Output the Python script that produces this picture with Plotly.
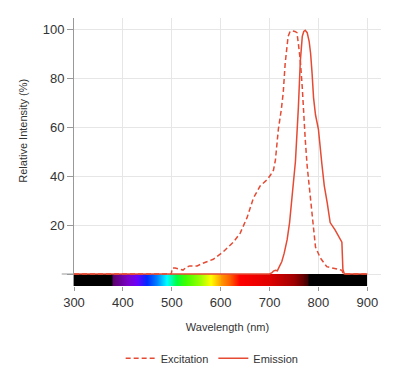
import plotly.graph_objects as go
import numpy as np

# ---- data ----
exc_wl = [300, 499, 501, 507, 515, 523, 530, 537, 552, 565, 585, 605, 626, 640, 654, 667, 681, 695,
          702, 708, 712, 718, 724, 728, 732, 738, 742, 746, 752, 756, 759, 763, 767, 769, 773, 777,
          780, 783, 787, 794, 804, 817, 838, 848, 851, 900]
exc_val = [0, 0, 2.4, 2.4, 2.0, 1.6, 2.8, 3.3, 3.3, 4.5, 6, 9, 13, 16.7, 23, 31, 36, 38.5,
           40.4, 42.4, 46.5, 59, 67, 74, 86, 97, 99, 99.3, 99, 98.5, 94, 87, 76, 67, 55, 44,
           38, 31, 22, 11, 6.5, 3, 2, 1.5, 0, 0]

em_wl = [300, 700, 705, 708, 712, 716, 720, 725, 730, 736, 741, 746, 753, 759, 763, 767, 770, 773,
         777, 781, 784, 787, 790, 794, 800, 807, 812, 818, 824, 834, 845, 848, 850, 853, 900]
em_val = [0, 0, 0.5, 1.2, 1.5, 1.3, 3, 5, 8.5, 14, 21, 31, 46, 68, 87, 97, 99, 99.5,
          98.5, 95, 90, 82, 72, 65, 59, 45, 36, 29, 21, 18, 14.5, 13, 2, 0, 0]

# visible spectrum stops (wavelength nm, colour)
spec_wl = [300, 378, 380, 410, 430, 450, 470, 490, 510, 530, 560, 580, 600, 620, 640, 700, 750, 780, 782, 900]
spec_col = ['#000000', '#000000', '#5a006a', '#7a00c8', '#6a00ff', '#0028ff', '#0080ff', '#00ffff',
            '#00ff40', '#40ff00', '#a0ff00', '#ffff00', '#ffa000', '#ff6000', '#ff0000', '#e00000',
            '#a00000', '#400000', '#000000', '#000000']

x_ticks = [300, 400, 500, 600, 700, 800, 900]
y_ticks = [0, 20, 40, 60, 80, 100]
y_ticktext = ['', '20', '40', '60', '80', '100']

LINE = '#e54b34'
FONT = 'Liberation Sans, Arial, sans-serif'

fig = go.Figure()

# spectrum bar as heatmap below zero
edges = np.arange(300, 902, 2)
centers = (edges[:-1] + edges[1:]) / 2
lo, hi = spec_wl[0], spec_wl[-1]
cscale = [[(w - lo) / (hi - lo), c] for w, c in zip(spec_wl, spec_col)]
fig.add_trace(go.Heatmap(z=[centers], x=edges, y=[-4.9, 0], colorscale=cscale,
                         zmin=lo, zmax=hi, showscale=False, hoverinfo='skip', showlegend=False))

fig.add_trace(go.Scatter(x=exc_wl, y=exc_val, mode='lines', name='Excitation',
                         line=dict(color=LINE, width=1.5, dash='5px,3px')))
fig.add_trace(go.Scatter(x=em_wl, y=em_val, mode='lines', name='Emission',
                         line=dict(color=LINE, width=1.5)))

fig.update_layout(
    width=400, height=371,
    margin=dict(l=66, r=27, t=10, b=93, autoexpand=False),
    paper_bgcolor='white', plot_bgcolor='white',
    font=dict(family=FONT, color='#333333', size=13),
    showlegend=True,
    legend=dict(orientation='h', x=0.45, xanchor='center', y=-0.27, yanchor='middle',
                font=dict(size=11, color='#333333'), itemwidth=30, tracegroupgap=0),
    annotations=[dict(text='Relative Intensity (%)', xref='paper', yref='paper', x=-0.195, y=0.58,
                      textangle=-90, showarrow=False, font=dict(size=11, color='#333333'))],
    shapes=[dict(type='line', xref='paper', yref='y', x0=-0.04, x1=0, y0=0, y1=0,
                 line=dict(color='#999999', width=1))],
)
fig.update_xaxes(range=[300, 928], tickvals=x_ticks, showgrid=True, gridcolor='#e6e6e6',
                 zeroline=False, showline=False, ticks='outside', ticklen=4, tickcolor='#999999',
                 automargin=False,
                 tickfont=dict(size=13), title=dict(text='Wavelength (nm)', font=dict(size=11), standoff=14))
fig.update_yaxes(range=[-4.9, 104.5], tickvals=y_ticks, ticktext=y_ticktext, showgrid=True,
                 automargin=False,
                 gridcolor='#e6e6e6', zeroline=False, showline=True, linecolor='#999999', linewidth=1,
                 ticks='outside', ticklen=6, tickcolor='#999999', tickfont=dict(size=13))

fig.write_html('out.html')
